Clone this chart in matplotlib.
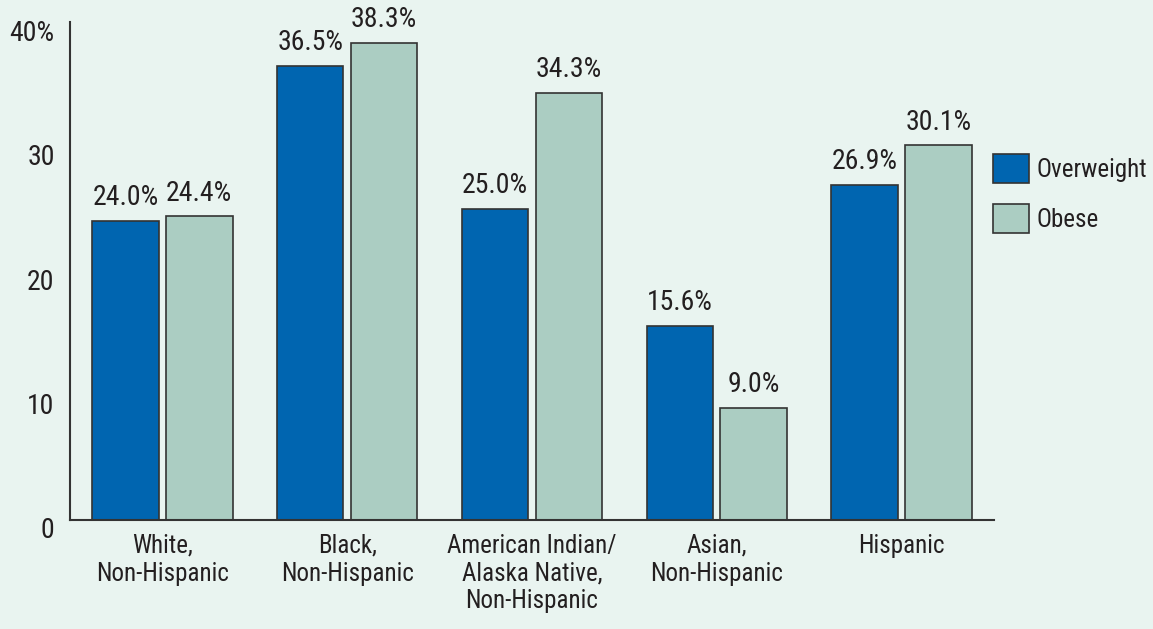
import matplotlib.pyplot as plt
import matplotlib.transforms as mtransforms
import numpy as np

# Data
groups = ['White,\nNon-Hispanic', 'Black,\nNon-Hispanic',
          'American Indian/\nAlaska Native,\nNon-Hispanic',
          'Asian,\nNon-Hispanic', 'Hispanic']
overweight = [24.0, 36.5, 25.0, 15.6, 26.9]
obese = [24.4, 38.3, 34.3, 9.0, 30.1]
series_names = ['Overweight', 'Obese']
y_ticks = [0, 10, 20, 30, 40]
y_ticklabels = ['0', '10', '20', '30', '40%']

# Style
BG = '#e9f4f0'
BLUE = '#0065b0'
GREEN = '#abcdc2'
EDGE = '#333333'
TEXT = '#231f20'
FONT = ['Liberation Sans Narrow', 'Roboto Condensed', 'Liberation Sans', 'DejaVu Sans']

plt.rcParams['font.family'] = FONT
plt.rcParams['text.color'] = TEXT

fig = plt.figure(figsize=(11.53, 6.29), dpi=100, facecolor=BG)
ax = fig.add_axes([0.0607, 0.1733, 0.8014, 0.7917])
ax.set_facecolor(BG)

x = np.arange(len(groups))
w = 0.36
b1 = ax.bar(x - 0.2, overweight, w, color=BLUE, edgecolor=EDGE, lw=1.2, label=series_names[0])
b2 = ax.bar(x + 0.2, obese, w, color=GREEN, edgecolor=EDGE, lw=1.2, label=series_names[1])

for bars, vals in [(b1, overweight), (b2, obese)]:
    for p, v in zip(bars, vals):
        ax.annotate(f'{v:.1f}%', (p.get_x() + p.get_width() / 2, v),
                    xytext=(0, 7), textcoords='offset points',
                    ha='center', va='bottom', fontsize=20, color=TEXT)

ax.set_xlim(-0.5, 4.5)
ax.set_ylim(0, 40)
ax.set_yticks(y_ticks)
ax.set_yticklabels(y_ticklabels)
ax.set_xticks(x)
ax.set_xticklabels(groups)
ax.tick_params(axis='both', length=0, colors=TEXT)
ax.tick_params(axis='y', pad=11, labelsize=20)
ax.tick_params(axis='x', pad=10, labelsize=18)
for lab in ax.get_xticklabels():
    lab.set_linespacing(1.2)

# y labels sit a little below their gridline positions
shift = mtransforms.ScaledTranslation(0, -0.08, fig.dpi_scale_trans)
for lab in ax.get_yticklabels():
    lab.set_transform(lab.get_transform() + shift)

for s in ['top', 'right']:
    ax.spines[s].set_visible(False)
for s in ['left', 'bottom']:
    ax.spines[s].set_color(EDGE)
    ax.spines[s].set_linewidth(1.5)

ax.legend(loc='upper left', bbox_to_anchor=(0.861, 0.755), bbox_transform=fig.transFigure,
          frameon=False, fontsize=18, handlelength=1.45, handleheight=1.4,
          handletextpad=0.3, labelspacing=0.85, borderaxespad=0, borderpad=0)

fig.savefig('out.png', dpi=100, facecolor=BG)
